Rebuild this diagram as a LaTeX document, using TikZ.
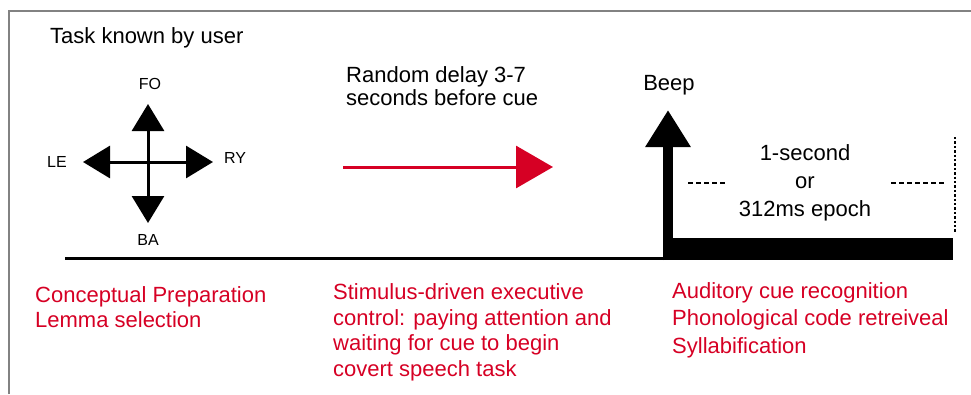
\documentclass[tikz,border=0pt]{standalone}
\usepackage{fontspec}
\setmainfont{Liberation Sans}
\usetikzlibrary{arrows.meta}
\definecolor{cuered}{RGB}{214,0,36}
\definecolor{framegray}{RGB}{130,130,130}

\begin{document}
\begin{tikzpicture}[x=1pt,y=-1pt,
		txt/.style={font=\fontsize{22}{23}\selectfont,inner sep=0pt,align=left,anchor=base west},
		note/.style={txt,text=cuered},
		dir/.style={font=\fontsize{16}{18}\selectfont,inner sep=0pt},
		cross/.style={-{Triangle[width=32pt,length=27pt]},line width=3pt},
		dashes/.style={line width=1.8pt,dash pattern=on 5pt off 3pt}]
	\useasboundingbox (0,0) rectangle (971,394);
	\draw[framegray,line width=1.2pt] (9,394) -- (9,11) -- (971,11); % frame, cut by the page

	\node[txt] (task) at (50,43) {Task known by user};

	% direction cross
	\coordinate (hub) at (148,162);
	\coordinate (fotip) at (148,104);
	\coordinate (batip) at (148,223);
	\coordinate (letip) at (83,162);
	\coordinate (rytip) at (213,162);
	\node[dir] (FO) at (150,84) {FO};
	\node[dir] (BA) at (148,240) {BA};
	\node[dir] (LE) at (57,162) {LE};
	\node[dir] (RY) at (235,158) {RY};
	\draw[cross] (hub) -- (fotip);
	\draw[cross] (hub) -- (batip);
	\draw[cross] (hub) -- (letip);
	\draw[cross] (hub) -- (rytip);

	% delay (multi-line nodes sit on their last baseline)
	\node[txt] (delay) at (346,105) {Random delay 3-7\\seconds before cue};
	\coordinate (waitstart) at (343,167);
	\coordinate (waitend) at (553,167);
	\draw[cuered,line width=3pt,-{Triangle[width=42pt,length=37pt]}] (waitstart) -- (waitend);

	% time line and cue
	\coordinate (axisstart) at (65,258.25);
	\coordinate (beepfoot) at (668,260);
	\coordinate (beeptip) at (668,110);
	\draw[line width=3.5pt] (axisstart) -- (axisstart -| beepfoot);
	\fill (663,238) rectangle (953,260); % epoch bar
	\draw[line width=10pt,-{Triangle[width=43pt,length=37pt]}] (beepfoot) -- (beeptip);
	\node[txt,anchor=base] (beep) at (669,90) {Beep};

	% epoch
	\node[txt,anchor=base,align=center,font=\fontsize{22}{28}\selectfont] (epoch) at (805,216) {1-second\\or\\312ms epoch};
	\coordinate (epochend) at (955,137);
	\draw[line width=2.2pt,dash pattern=on 2.4pt off 2pt] (epochend) -- (955,232);
	\draw[dashes] (688,183) -- (725,183);
	\draw[dashes] (891,183) -- (944,183);

	% stages
	\node[note,font=\fontsize{22}{25}\selectfont] (concept) at (35,327) {Conceptual Preparation\\Lemma selection};
	\node[note,font=\fontsize{22}{25.5}\selectfont] (attend) at (333,376) {Stimulus-driven executive\\control: paying attention and\\waiting for cue to begin\\covert speech task};
	\node[note,font=\fontsize{22}{27.5}\selectfont] (recog) at (672,353) {Auditory cue recognition\\Phonological code retreiveal\\Syllabification};
\end{tikzpicture}
\end{document}
